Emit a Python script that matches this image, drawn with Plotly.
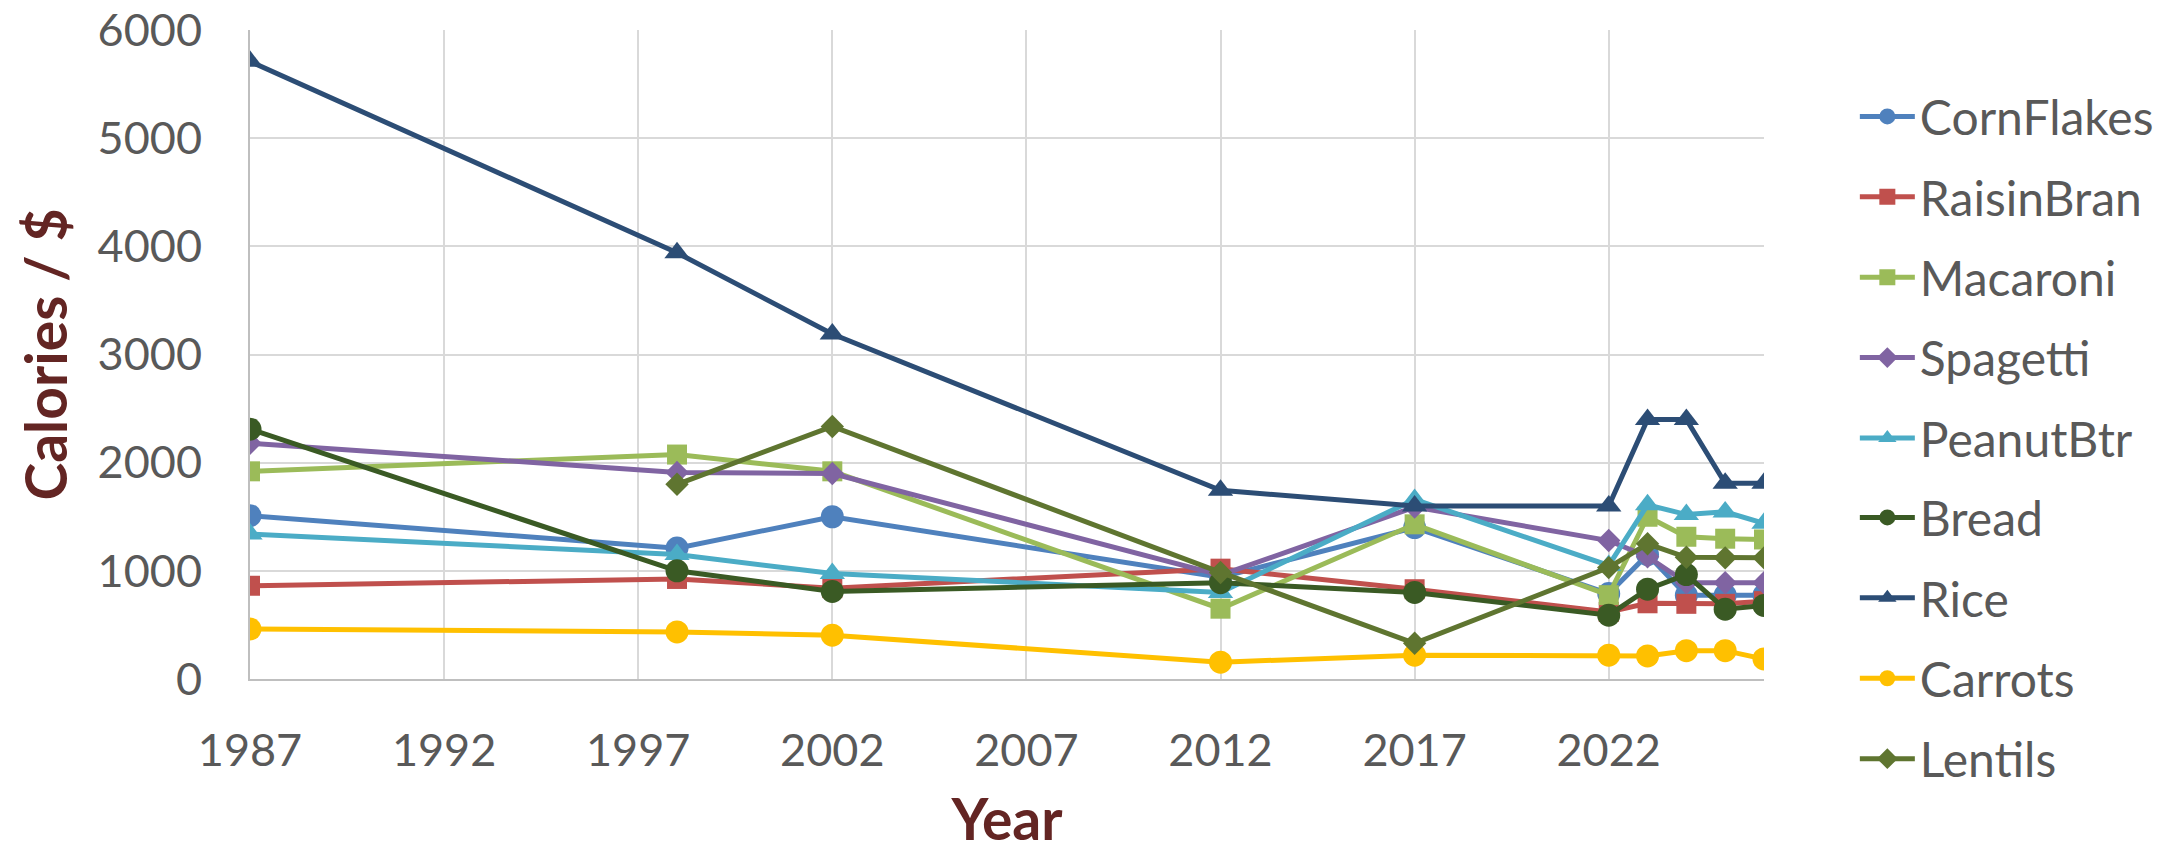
import plotly.graph_objects as go

years = [1987, 1998, 2002, 2012, 2017, 2022, 2023, 2024, 2025, 2026]

corn_flakes = [1510, 1210, 1500, 940, 1400, 790, 1150, 775, 775, 775]
raisin_bran = [862, 925, 840, 1020, 830, 620, 700, 695, 695, 720]
macaroni = [1920, 2075, 1920, 650, 1430, 775, 1500, 1315, 1297, 1290]
spagetti = [2180, 1910, 1900, 960, 1590, 1280, 1130, 890, 890, 890]
peanut_btr = [1340, 1150, 975, 800, 1660, 1050, 1610, 1520, 1545, 1440]
bread = [2310, 1000, 810, 890, 800, 590, 830, 965, 645, 680]
rice = [5710, 3940, 3190, 1745, 1600, 1600, 2400, 2400, 1810, 1810]
carrots = [462, 435, 405, 155, 220, 220, 213, 262, 262, 185]
lentils = [None, 1800, 2335, 985, 330, 1030, 1250, 1125, 1120, 1120]

series = [
    ("CornFlakes", corn_flakes, "#4F81BD", "circle", 23, "legend"),
    ("RaisinBran", raisin_bran, "#C0504D", "square", 20, "legend"),
    ("Macaroni", macaroni, "#9BBB59", "square", 20, "legend"),
    ("Spagetti", spagetti, "#8064A2", "diamond", 18, "legend"),
    ("PeanutBtr", peanut_btr, "#4BACC6", "triangle-up", 22, "legend"),
    ("Bread", bread, "#3A5A24", "circle", 23, "legend2"),
    ("Rice", rice, "#2C4D75", "triangle-up", 22, "legend2"),
    ("Carrots", carrots, "#FFC000", "circle", 23, "legend2"),
    ("Lentils", lentils, "#5F7530", "diamond", 18, "legend2"),
]

fig = go.Figure()
for name, vals, color, sym, size, leg in series:
    fig.add_trace(go.Scatter(
        x=years, y=vals, name=name, mode="lines+markers",
        legendgroup=name, legend=leg,
        line=dict(color=color, width=5),
        marker=dict(symbol=sym, size=size, color=color, line=dict(width=0)),
    ))

tick_font = dict(family="Lato", size=45, color="#595959")
title_font = dict(family="Lato", size=57, color="#632523")
legend_font = dict(family="Lato", size=48, color="#595959")

fig.update_layout(
    width=2181, height=852,
    margin=dict(l=250, r=417, t=30, b=173, autoexpand=False),
    paper_bgcolor="white", plot_bgcolor="white",
    showlegend=True,
    legend=dict(
        x=1.06, xanchor="left", y=0.925, yanchor="top",
        font=legend_font, tracegroupgap=15, itemwidth=55,
        bgcolor="rgba(0,0,0,0)",
    ),
    legend2=dict(
        x=1.06, xanchor="left", y=0.307, yanchor="top",
        font=legend_font, tracegroupgap=15, itemwidth=55,
        bgcolor="rgba(0,0,0,0)",
    ),
)
fig.update_xaxes(
    range=[1987, 2026], tick0=1987, dtick=5,
    showgrid=True, gridcolor="#D9D9D9", gridwidth=2,
    showline=True, linecolor="#BFBFBF", linewidth=2,
    zeroline=False, ticks="", tickfont=tick_font,
    ticklabelstandoff=31,
    title=dict(text="<b>Year</b>", font=title_font, standoff=43),
)
fig.update_yaxes(
    range=[0, 6000], dtick=1000,
    showgrid=True, gridcolor="#D9D9D9", gridwidth=2,
    showline=True, linecolor="#BFBFBF", linewidth=2,
    zeroline=False, ticks="", tickfont=tick_font,
    ticklabelstandoff=37,
    title=dict(text="<b>Calories / $</b>", font=title_font, standoff=12),
)

fig.write_html("out.html")
